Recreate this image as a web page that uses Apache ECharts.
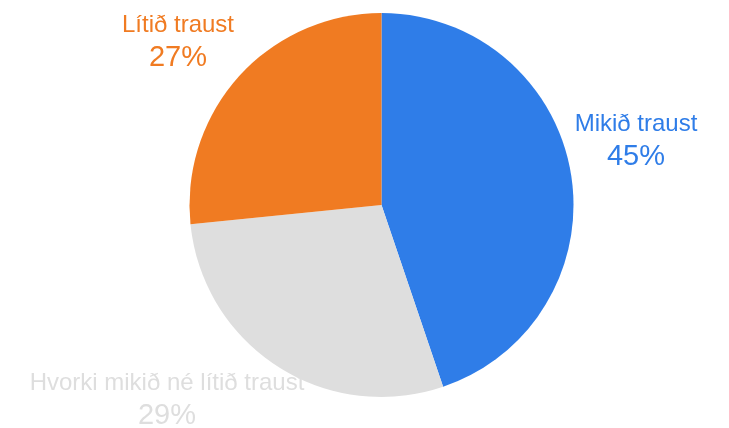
<!DOCTYPE html>
<html>
<head>
<meta charset="utf-8">
<script src="https://cdn.jsdelivr.net/npm/echarts@6/dist/echarts.min.js"></script>
<style>
  html, body { margin: 0; padding: 0; background: #fff; }
  #chart { width: 729px; height: 428px; }
</style>
</head>
<body>
<div id="chart"></div>
<script>
// slice data, clockwise from 12 o'clock (shares)
var categories = ['Mikið traust', 'Hvorki mikið né lítið traust', 'Lítið traust'];
var shares = [44.8, 28.6, 26.6];
var colors = ['#2f7de8', '#dedede', '#f07b22'];

var pieData = categories.map(function (name, i) {
	return {
		name: name,
		value: shares[i],
		itemStyle: { color: colors[i] },
		label: { color: colors[i] }
	};
});

// where each label block sits (centre of the two lines)
var labelSpots = [[636, 141], [167, 400], [178, 42]];

var myChart = echarts.init(document.getElementById('chart'));

myChart.setOption({
	animation: false,
	series: [{
		type: 'pie',
		center: [381.5, 205],
		radius: 192,
		startAngle: 90,
		clockwise: true,
		data: pieData,
		label: {
			position: 'outside',
			overflow: 'none',
			fontFamily: 'Liberation Sans, Arial, sans-serif',
			formatter: function (p) {
				return '{n|' + p.name + '}\n{p|' + Math.round(p.value) + '%}';
			},
			align: 'center',
			rich: {
				n: { fontSize: 24, lineHeight: 32, align: 'center' },
				p: { fontSize: 29, lineHeight: 34, align: 'center' }
			}
		},
		labelLine: { show: false },
		labelLayout: function (params) {
			var s = labelSpots[params.dataIndex];
			return { x: s[0], y: s[1], align: 'center', verticalAlign: 'middle' };
		}
	}]
});
</script>
</body>
</html>
